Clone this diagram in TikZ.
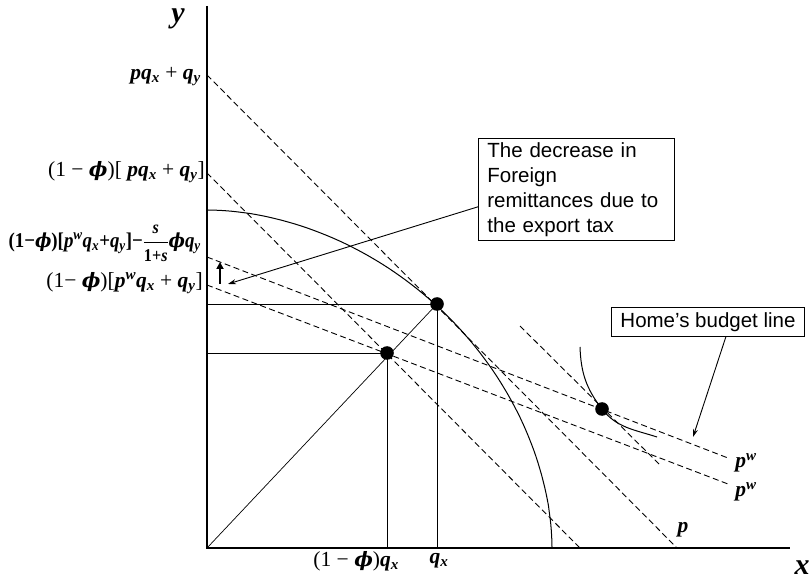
\documentclass[tikz,border=0pt]{standalone}
\usepackage{fontspec}
\setmainfont{Liberation Serif}
\newfontfamily\arialfont{Liberation Sans}
\newfontfamily\phifont{DejaVu Serif}
\usetikzlibrary{arrows.meta}

\newcommand{\vbi}[1]{{\bfseries\itshape #1}}
\newcommand{\sub}[1]{\textsubscript{\vbi{#1}}}
\newcommand{\vphi}{{\phifont\bfseries\itshape\scalebox{0.92}{ϕ}}}

\tikzset{
  axisline/.style={line width=1.2pt},
  guide/.style={line width=0.7pt},
  budget/.style={line width=0.9pt, dash pattern=on 6pt off 3.5pt},
  dot/.style={fill=black},
  lab/.style={font=\fontsize{21.5}{25}\selectfont, inner sep=0pt},
  callout/.style={draw, line width=0.8pt, font=\arialfont\fontsize{20.5}{25}\selectfont, align=left, inner xsep=9pt, inner ysep=4pt},
  leader/.style={line width=0.9pt, -{Stealth[length=8pt,width=5pt]}}
}

\begin{document}
\begin{tikzpicture}[x=1pt, y=1pt]
    \useasboundingbox (0,0) rectangle (810,581);

    % Ejes
    \coordinate (O) at (207,33);
    \draw[axisline] (207,575) -- (O) -- (790,33);
    \node[lab, font=\fontsize{30}{34}\selectfont] (ylab) at (178,562) {\vbi{y}};
    \node[lab, font=\fontsize{30}{34}\selectfont] (xlab) at (802,13) {\vbi{x}};

    % Puntos de produccion y consumo
    \coordinate (A) at (437,277);
    \coordinate (B) at (387,228);
    \coordinate (C) at (602,172);

    % Frontera de posibilidades de produccion
    \draw[line width=1pt] plot[domain=0.1:89.9, samples=80, variable=\t]
      ({207+345*cos(\t)^1.064}, {33+338*sin(\t)^1.064});

    % Curva de indiferencia
    \draw[line width=1pt] (580,234) to[out=-88, in=128] (C) to[out=-52, in=162] (657,144);

    % Rectas de precios
    \draw[budget] (207,506) -- (677,33);
    \draw[budget] (207,408) -- (580,33);
    \draw[budget] (520,255) -- (660,116);
    \draw[budget] (207,324) -- (728,123);
    \draw[budget] (207,296) -- (728,97);

    % Lineas de referencia
    \draw[guide] (207,277) -- (A) -- (437,33);
    \draw[guide] (207,228) -- (B) -- (387,33);
    \draw[guide] (O) -- (A);

    % Puntos
    \fill[dot] (A) circle (6.8pt);
    \fill[dot] (B) circle (6.8pt);
    \fill[dot] (C) circle (6.8pt);

    % Etiquetas del eje y
    \node[lab, anchor=east] (l1) at (201,504) {\vbi{pq}\sub{x} + \vbi{q}\sub{y}};
    \node[lab, anchor=east] (l2) at (205,409) {(1 − \vphi)[ \vbi{pq}\sub{x} + \vbi{q}\sub{y}]};
    \node[lab, anchor=east] (l3) at (201,338) {\scalebox{0.9}[1]{\bfseries\fontsize{21}{24}\selectfont
      (1−\vphi)[\vbi{p}\textsuperscript{\vbi{w}}\vbi{q}\sub{x}+\vbi{q}\sub{y}]−$\displaystyle\frac{\hbox{\fontsize{18}{20}\selectfont\vbi{s}}}{\hbox{\fontsize{18}{20}\selectfont 1+\vbi{s}}}$\vphi\vbi{q}\sub{y}}};
    \node[lab, anchor=east] (l4) at (203,298) {(1− \vphi)[\vbi{p}\textsuperscript{\vbi{w}}\vbi{q}\sub{x} + \vbi{q}\sub{y}]};

    % Etiquetas del eje x
    \node[lab, anchor=east] (lx1) at (399,20) {(1 − \vphi)\vbi{q}\sub{x}};
    \node[lab] (lx2) at (439,20) {\vbi{q}\sub{x}};

    % Etiquetas de las rectas
    \node[lab] (lp) at (683,51) {\vbi{p}};
    \node[lab] (lpw1) at (746,118) {\vbi{p}\textsuperscript{\vbi{w}}};
    \node[lab] (lpw2) at (746,89) {\vbi{p}\textsuperscript{\vbi{w}}};

    % Flecha de desplazamiento
    \coordinate (uptail) at (220,297);
    \coordinate (uphead) at (220,319);
    \draw[line width=2pt, -{Triangle[length=7pt,width=7pt]}] (uptail) -- (uphead);

    % Cuadros explicativos
    \node[callout, anchor=north west, text width=178pt] (decbox) at (478,443)
      {The decrease in\\Foreign\\remittances due to\\the export tax};
    \coordinate (dechead) at (228,297);
    \draw[leader] (decbox.190) -- (dechead);

    \node[callout, inner ysep=5pt] (homebox) at (708,259) {Home’s budget line};
    \coordinate (homehead) at (693,144);
    \draw[leader] (homebox.-40) -- (homehead);
\end{tikzpicture}
\end{document}
